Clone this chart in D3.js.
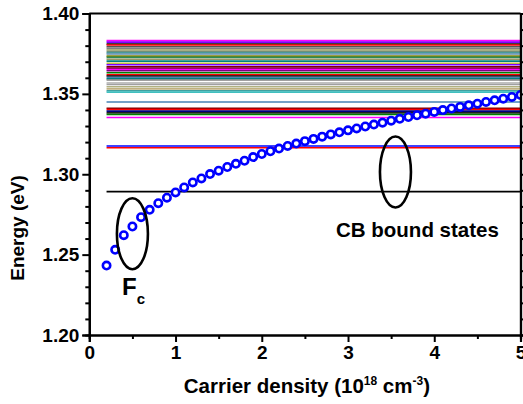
<!DOCTYPE html>
<html>
<head>
<meta charset="utf-8">
<script src="https://cdn.jsdelivr.net/npm/d3@7"></script>
<style>
  body { margin: 0; background: #fff; }
  svg { font-family: Arial, "Liberation Sans", sans-serif; font-weight: bold; }
</style>
</head>
<body>
<div id="chart"></div>
<script>
// carrier density (1e18 cm^-3) and quasi Fermi level Fc (eV)
const density = [0.2, 0.3, 0.4, 0.5, 0.6, 0.7, 0.8, 0.9, 1.0, 1.1, 1.2, 1.3, 1.4, 1.5, 1.6, 1.7,
  1.8, 1.9, 2.0, 2.1, 2.2, 2.3, 2.4, 2.5, 2.6, 2.7, 2.8, 2.9, 3.0, 3.1, 3.2, 3.3, 3.4, 3.5,
  3.6, 3.7, 3.8, 3.9, 4.0, 4.1, 4.2, 4.3, 4.4, 4.5, 4.6, 4.7, 4.8, 4.9, 5.0];
const fermi = [1.2432, 1.2530, 1.2621, 1.2675, 1.2733, 1.2779, 1.2820, 1.2854, 1.2887, 1.2918,
  1.2949, 1.2974, 1.3001, 1.3022, 1.3045, 1.3065, 1.3084, 1.3107, 1.3126, 1.3143, 1.3160,
  1.3176, 1.3191, 1.3206, 1.3220, 1.3234, 1.3248, 1.3261, 1.3273, 1.3285, 1.3297, 1.3309,
  1.3321, 1.3333, 1.3345, 1.3356, 1.3367, 1.3377, 1.3388, 1.3399, 1.3409, 1.3419, 1.3429,
  1.3439, 1.3450, 1.3460, 1.3470, 1.3481, 1.3493];

// CB bound state energies (eV) and their line colours
const levels = [1.3831, 1.3822, 1.3810, 1.3804, 1.3793, 1.3783, 1.3773, 1.3764, 1.3756, 1.3748,
  1.3735, 1.3727, 1.3715, 1.3704, 1.3690, 1.3681, 1.3669, 1.3660, 1.3652, 1.3644, 1.3631,
  1.3619, 1.3611, 1.3602, 1.3594, 1.3586, 1.3569, 1.3559, 1.3544, 1.3531, 1.3519, 1.3511,
  1.3449, 1.3411, 1.3403, 1.3393, 1.3382, 1.3372, 1.3353, 1.3165, 1.3176, 1.2892];
const levelColors = ["#ff00ff", "#8000ff", "#000000", "#ff0000", "#555555", "#808080", "#a0a060",
  "#70907a", "#4a9a9a", "#5b8db0", "#808000", "#2e8b57", "#999966", "#008080", "#c0c040",
  "#8000ff", "#800000", "#800040", "#ff00ff", "#800080", "#008000", "#ff0000", "#000000",
  "#4682b4", "#008080", "#808080", "#c0c0c0", "#a0a0a0", "#b0b080", "#c0b080", "#40a0a0",
  "#40c0c0", "#4682b4", "#800000", "#ff0000", "#000080", "#202020", "#008000", "#ff00ff",
  "#ff0000", "#0000ff", "#000000"];
const levelStart = 0.2;

const xTicks = [0, 1, 2, 3, 4, 5];
const yTicks = [1.20, 1.25, 1.30, 1.35, 1.40];

const width = 523, height = 404;
const margin = {left: 89.3, right: 2.5, top: 13.5, bottom: 69};

const svg = d3.select("#chart").append("svg")
    .attr("width", width)
    .attr("height", height);

const x = d3.scaleLinear().domain([0, 5]).range([margin.left, width - margin.right]);
const y = d3.scaleLinear().domain([1.20, 1.40]).range([height - margin.bottom, margin.top]);

svg.append("clipPath").attr("id", "clip")
  .append("rect")
    .attr("x", x(0)).attr("y", y(1.40))
    .attr("width", x(5) - x(0)).attr("height", y(1.20) - y(1.40));

const plot = svg.append("g").attr("clip-path", "url(#clip)");

// bound state lines
plot.selectAll(".level")
  .data(levels)
  .enter()
  .append("line")
    .attr("class", "level")
    .attr("x1", x(levelStart))
    .attr("x2", x(5))
    .attr("y1", d => y(d))
    .attr("y2", d => y(d))
    .attr("stroke", (d, i) => levelColors[i])
    .attr("stroke-width", 1.6);

// Fc points
plot.selectAll(".pt")
  .data(density)
  .enter()
  .append("circle")
    .attr("class", "pt")
    .attr("cx", d => x(d))
    .attr("cy", (d, i) => y(fermi[i]))
    .attr("r", 3.7)
    .attr("fill", "#fff")
    .attr("stroke", "#0000ff")
    .attr("stroke-width", 2.6);

// axes
const minorX = d3.range(0.5, 5, 1);
const minorY = d3.range(1.20, 1.401, 0.01).filter(v => Math.abs(v * 20 - Math.round(v * 20)) > 1e-6);

const bottom = svg.append("g").attr("transform", `translate(0,${y(1.20)})`);
bottom.call(d3.axisBottom(x).tickValues(xTicks).tickFormat(d3.format("d")).tickSize(7).tickPadding(4));
bottom.append("g").call(d3.axisBottom(x).tickValues(minorX).tickFormat("").tickSize(4));

const left = svg.append("g").attr("transform", `translate(${x(0)},0)`);
left.call(d3.axisLeft(y).tickValues(yTicks).tickFormat(d3.format(".2f")).tickSize(7).tickPadding(3));
left.append("g").call(d3.axisLeft(y).tickValues(minorY).tickFormat("").tickSize(4));

const right = svg.append("g").attr("transform", `translate(${x(5)},0)`);
right.call(d3.axisRight(y).tickValues(yTicks).tickFormat("").tickSize(7));
right.append("g").call(d3.axisRight(y).tickValues(minorY).tickFormat("").tickSize(4));

svg.append("line")
    .attr("x1", x(0)).attr("x2", x(5))
    .attr("y1", y(1.40)).attr("y2", y(1.40))
    .attr("stroke", "#000").attr("stroke-width", 2.2);

svg.selectAll(".domain").attr("stroke-width", 2.2);
svg.selectAll(".tick line").attr("stroke-width", 2);
svg.selectAll(".tick text")
    .attr("font-size", 19)
    .attr("font-weight", "bold")
    .attr("font-family", "Arial, 'Liberation Sans', sans-serif")
    .attr("fill", "#000");

// axis titles
svg.append("text")
    .attr("x", (x(0) + x(5)) / 2 + 2)
    .attr("y", 392.5)
    .attr("text-anchor", "middle")
    .attr("font-size", 20.5)
    .html('Carrier density (10<tspan dy="-8" font-size="12">18</tspan><tspan dy="8"> cm</tspan><tspan dy="-8" font-size="12">-3</tspan><tspan dy="8">)</tspan>');

svg.append("text")
    .attr("transform", "translate(24,228) rotate(-90)")
    .attr("text-anchor", "middle")
    .attr("font-size", 19)
    .text("Energy (eV)");

// annotations
const ellipses = [{cx: 0.5, cy: 1.2630}, {cx: 3.55, cy: 1.3014}];
svg.selectAll(".ring")
  .data(ellipses)
  .enter()
  .append("ellipse")
    .attr("cx", d => x(d.cx))
    .attr("cy", d => y(d.cy))
    .attr("rx", 15.5)
    .attr("ry", 35.5)
    .attr("fill", "none")
    .attr("stroke", "#000")
    .attr("stroke-width", 2.6);

svg.append("text")
    .attr("x", 122)
    .attr("y", 295)
    .attr("font-size", 24)
    .html('F<tspan dy="9" font-size="15">c</tspan>');

svg.append("text")
    .attr("x", 336)
    .attr("y", 237)
    .attr("font-size", 20.5)
    .text("CB bound states");
</script>
</body>
</html>
